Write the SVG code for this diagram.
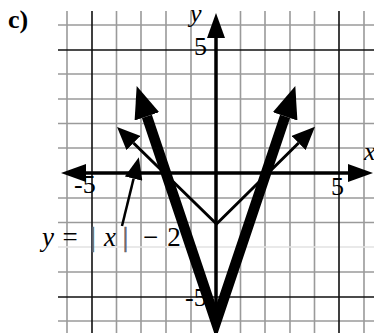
<svg xmlns="http://www.w3.org/2000/svg" width="374" height="333" viewBox="0 0 374 333">
<style>
.grid{stroke:#9a9a9a;stroke-width:1.6;fill:none}
.faint{stroke:#e2e2e2;stroke-width:1.4;fill:none}
.dark{stroke:#111;stroke-width:1.6;fill:none}
.axis{stroke:#000;stroke-width:3.5;fill:none}
.thin{stroke:#000;stroke-width:3;fill:none;stroke-linejoin:miter}
.thick{stroke:#000;stroke-width:10.5;fill:none;stroke-linejoin:miter;stroke-miterlimit:10}
.ptr{stroke:#000;stroke-width:2.5;fill:none}
.t{font-family:"Liberation Serif","Times New Roman",serif;font-size:26px;fill:#000}
.it{font-style:italic}
.lab{font-family:"Liberation Serif","Times New Roman",serif;font-size:27px;fill:#000;text-anchor:middle}
.bar{fill:#666;stroke:#666;stroke-width:0.7}
</style>
<defs>
<marker id="aThick" markerUnits="userSpaceOnUse" markerWidth="32" markerHeight="26" refX="0" refY="13" orient="auto-start-reverse"><path d="M0,0 L32,13 L0,26 Z" fill="#000"/></marker>
<marker id="aThin" markerUnits="userSpaceOnUse" markerWidth="23" markerHeight="20" refX="0" refY="10" orient="auto-start-reverse"><path d="M0,0 L23,10 L0,20 Z" fill="#000"/></marker>
<marker id="aAxis" markerUnits="userSpaceOnUse" markerWidth="25" markerHeight="18" refX="0" refY="9" orient="auto-start-reverse"><path d="M0,0 L25,9 L0,18 Z" fill="#000"/></marker>
<marker id="aPtr" markerUnits="userSpaceOnUse" markerWidth="22" markerHeight="18" refX="0" refY="9" orient="auto"><path d="M0,0 L22,9 L0,18 Z" fill="#000"/></marker>
</defs>
<rect width="374" height="333" fill="#fff"/>
<g id="grid">
<path class="grid" d="M67,11V333 M116.5,11V333 M141,11V333 M166,11V333 M191,11V333 M240.5,11V333 M265,11V333 M290,11V333 M314.5,11V333 M364,11V333"/>
<path class="grid" d="M58,25H374 M58,74H374 M58,99H374 M58,123.5H374 M58,148H374 M58,198H374 M58,222.5H374 M58,272H374 M58,321H374"/>
<path class="faint" d="M58,247H374"/>
<path class="dark" d="M92,11V333 M339,11V333 M58,50H374 M58,297H374"/>
</g>
<g id="ticklabels">
<text class="t" x="8" y="28" font-weight="bold">c)</text>
<text class="t it" x="190" y="22">y</text>
<text class="t" x="194" y="55">5</text>
<text class="t it" x="364" y="160">x</text>
<text class="t" x="331" y="195">5</text>
<text class="t" x="74" y="193">-5</text>
<text class="t" x="185" y="306">-5</text>
</g>
<g id="axes">
<path class="axis" d="M216,333 V38" marker-end="url(#aAxis)"/>
<path class="axis" d="M86,173 H348" marker-start="url(#aAxis)" marker-end="url(#aAxis)"/>
</g>
<g id="graph-thin">
<path class="thin" d="M133.5,143 L216.5,224 L298.6,143" marker-start="url(#aThin)" marker-end="url(#aThin)"/>
</g>
<g id="graph-thick">
<path class="thick" d="M146.9,116.4 L216,322 L285.1,116.4" marker-start="url(#aThick)" marker-end="url(#aThick)"/>
</g>
<g id="connectors">
<path class="ptr" d="M122,226 L133.6,178.6" marker-end="url(#aPtr)"/>
</g>
<g id="label">
<text class="lab it" x="48" y="246">y</text>
<text class="lab" x="70" y="246">=</text>
<text class="lab bar" x="93" y="246">|</text>
<text class="lab it" x="110" y="246">x</text>
<text class="lab bar" x="125.5" y="246">|</text>
<text class="lab" x="150.5" y="246">−</text>
<text class="lab" x="174" y="246">2</text>
</g>
</svg>
